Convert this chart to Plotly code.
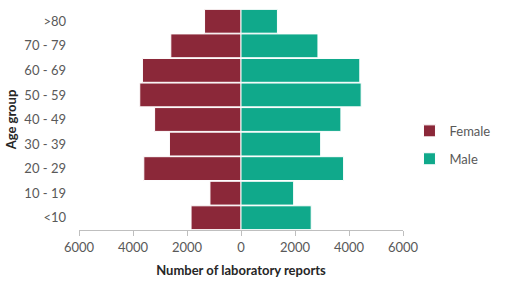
import plotly.graph_objects as go

age_groups = ["<10", "10 - 19", "20 - 29", "30 - 39", "40 - 49", "50 - 59", "60 - 69", "70 - 79", ">80"]
female = [1850, 1150, 3600, 2650, 3200, 3750, 3650, 2600, 1350]
male = [2600, 1950, 3800, 2950, 3700, 4450, 4400, 2850, 1350]
tick_values = [-6000, -4000, -2000, 0, 2000, 4000, 6000]
tick_labels = ["6000", "4000", "2000", "0", "2000", "4000", "6000"]

FEMALE_C = "#8B2839"
MALE_C = "#10A98B"
TXT = "#595959"
FONT = "Lato"

fig = go.Figure()
fig.add_trace(go.Bar(
    y=age_groups, x=[-v for v in female], orientation="h", name="Female",
    marker=dict(color=FEMALE_C, line=dict(color="white", width=1)),
    legendgroup="f",
))
fig.add_trace(go.Bar(
    y=age_groups, x=male, orientation="h", name="Male",
    marker=dict(color=MALE_C, line=dict(color="white", width=1)),
    legendgroup="m",
))

fig.update_layout(
    width=505, height=289,
    margin=dict(l=79, r=102, t=9, b=59),
    barmode="overlay", bargap=0.03,
    plot_bgcolor="white", paper_bgcolor="white",
    font=dict(family=FONT, size=13, color=TXT),
    legend=dict(x=1.02, xanchor="left", y=0.385, yanchor="middle",
                font=dict(size=13, color=TXT), tracegroupgap=8,
                traceorder="grouped", itemwidth=30, bgcolor="rgba(0,0,0,0)"),
    xaxis=dict(
        range=[-6000, 6000], tickvals=tick_values, ticktext=tick_labels,
        showgrid=False, zeroline=True, zerolinecolor="#BFBFBF", zerolinewidth=1,
        showline=True, linecolor="#BFBFBF", linewidth=1,
        ticks="outside", ticklen=5, tickcolor="#BFBFBF",
        tickfont=dict(size=13, color=TXT),
        title=dict(text="<b>Number of laboratory reports</b>", standoff=12,
                   font=dict(size=13, color="#262626")),
    ),
    yaxis=dict(
        showgrid=False, showline=False, ticks="",
        tickfont=dict(size=13, color=TXT), ticklabelstandoff=12,
        title=dict(text="<b>Age group</b>", standoff=4,
                   font=dict(size=13, color="#262626")),
    ),
)

fig.write_html("out.html")
